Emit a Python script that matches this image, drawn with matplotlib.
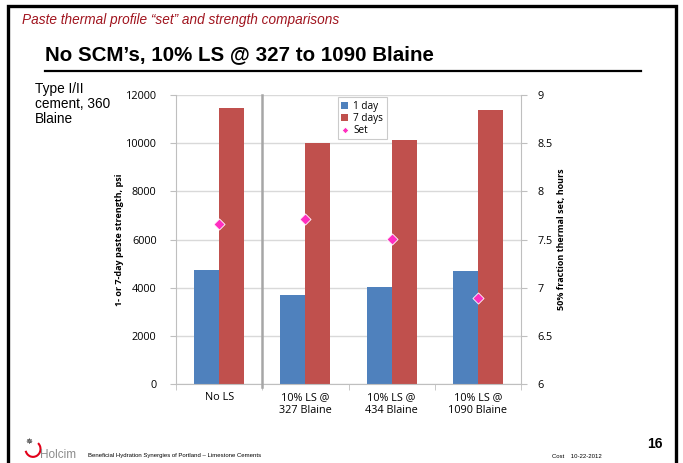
import numpy as np
import matplotlib.pyplot as plt
from matplotlib.patches import Rectangle, Arc
from matplotlib.lines import Line2D

# data
groups = ['No LS', '10% LS @\n327 Blaine', '10% LS @\n434 Blaine', '10% LS @\n1090 Blaine']
strength_1d = [4720, 3700, 4040, 4680]
strength_7d = [11460, 10010, 10120, 11360]
set_hours = [7.66, 7.71, 7.51, 6.89]

blue = '#4F81BD'
red = '#C0504D'
pink = '#FF2FC0'
grid_col = '#D9D9D9'
axis_col = '#BFBFBF'
body_font = ['Open Sans', 'DejaVu Sans']

plt.rcParams['font.family'] = ['Liberation Sans', 'DejaVu Sans']

fig = plt.figure(figsize=(6.83, 4.63), dpi=100)
W, H = 683, 463

def fx(px):
    return px / W

def fy(py):
    return 1 - py / H

# slide frame
fig.patches.append(Rectangle((fx(8), fy(470)), fx(676) - fx(8), fy(6) - fy(470),
                             transform=fig.transFigure, fill=False, edgecolor='black',
                             linewidth=2.4, zorder=0))

fig.text(fx(22), fy(20), 'Paste thermal profile \u201cset\u201d and strength comparisons',
         fontsize=9.8, style='italic', color='#A0141E', va='center', ha='left')
fig.text(fx(45), fy(55), 'No SCM\u2019s, 10% LS @ 327 to 1090 Blaine',
         fontsize=14.8, fontweight='bold', va='center', ha='left')
fig.add_artist(Line2D([fx(45), fx(641)], [fy(71), fy(71)], transform=fig.transFigure,
                      color='black', linewidth=1.6))
fig.text(fx(35), fy(82), 'Type I/II\ncement, 360\nBlaine', fontsize=9.8, va='top', ha='left',
         linespacing=1.1)

# chart
ax = fig.add_axes([fx(176), fy(384), fx(521) - fx(176), fy(95) - fy(384)])
x = np.arange(len(groups))
bw = 0.29
b1 = ax.bar(x - bw / 2, strength_1d, bw, color=blue, label='1 day', zorder=2)
b2 = ax.bar(x + bw / 2, strength_7d, bw, color=red, label='7 days', zorder=2)
ax.set_ylim(0, 12000)
ax.set_xlim(-0.5, len(groups) - 0.5)
ax.set_yticks(range(0, 12001, 2000))
ax.yaxis.grid(True, color=grid_col, linewidth=1, zorder=0)
ax.set_axisbelow(True)
ax.set_xticks(x)
ax.set_xticklabels(groups, fontsize=7.8, family=body_font)
ax.set_xticks(np.arange(-0.5, len(groups), 1), minor=True)
ax.tick_params(axis='x', which='major', length=0, pad=6)
ax.tick_params(axis='x', which='minor', length=4, color=axis_col)
ax.tick_params(axis='y', length=4, color=axis_col, labelsize=7.8, pad=10)
for lab in ax.get_yticklabels():
    lab.set_family(body_font)
for s in ['top', 'right']:
    ax.spines[s].set_visible(False)
ax.spines['left'].set_color(axis_col)
ax.spines['bottom'].set_color(axis_col)
ax.set_ylabel('1- or 7-day paste strength, psi', fontsize=6.5, fontweight='bold',
              family=body_font, labelpad=1)

# separator between control and LS mixes
ax.axvline(0.5, ymin=-0.012, ymax=1, color='#A6A6A6', linewidth=1.8, clip_on=False, zorder=3)

ax2 = ax.twinx()
ax2.set_ylim(6, 9)
ax2.set_yticks([6, 6.5, 7, 7.5, 8, 8.5, 9])
ax2.set_yticklabels(['6', '6.5', '7', '7.5', '8', '8.5', '9'], family=body_font)
ax2.tick_params(axis='y', length=4, color=axis_col, labelsize=7.8, pad=8)
pts = ax2.scatter(x, set_hours, marker='D', s=32, color=pink, edgecolor='white',
                  linewidth=0.6, label='Set', zorder=5)
for s in ['top', 'left', 'bottom']:
    ax2.spines[s].set_visible(False)
ax2.spines['right'].set_color(axis_col)
ax2.set_ylabel('50% fraction thermal set, hours', fontsize=6.5, fontweight='bold',
               family=body_font, labelpad=3)

leg = ax2.legend([b1, b2, pts], ['1 day', '7 days', 'Set'], loc='upper left',
                 bbox_to_anchor=(0.455, 1.01), frameon=True, fancybox=False,
                 handlelength=0.7, handleheight=0.7, handletextpad=0.5, borderpad=0.35,
                 labelspacing=0.1, markerscale=0.6,
                 prop={'family': body_font, 'size': 7.2})
leg.get_frame().set_edgecolor('#BFBFBF')
leg.get_frame().set_linewidth(0.8)

# footer
fig.add_artist(Arc((fx(33), fy(449)), 0.022, 0.034, theta1=200, theta2=420,
                   transform=fig.transFigure, color='#E2001A', linewidth=1.5))
fig.text(fx(29), fy(443), '\u2735', fontsize=6, color='black', ha='center', va='center')
fig.text(fx(40), fy(455), 'Holcim', fontsize=8.5, color='#8C8C8C', ha='left', va='center')
fig.text(fx(88), fy(456), 'Beneficial Hydration Synergies of Portland \u2013 Limestone Cements',
         fontsize=4.3, ha='left', va='center')
fig.text(fx(552), fy(456), 'Cost    10-22-2012', fontsize=4.3, ha='left', va='center')
fig.text(fx(655), fy(444), '16', fontsize=10, fontweight='bold', ha='center', va='center')

fig.savefig('out.png', dpi=100)
